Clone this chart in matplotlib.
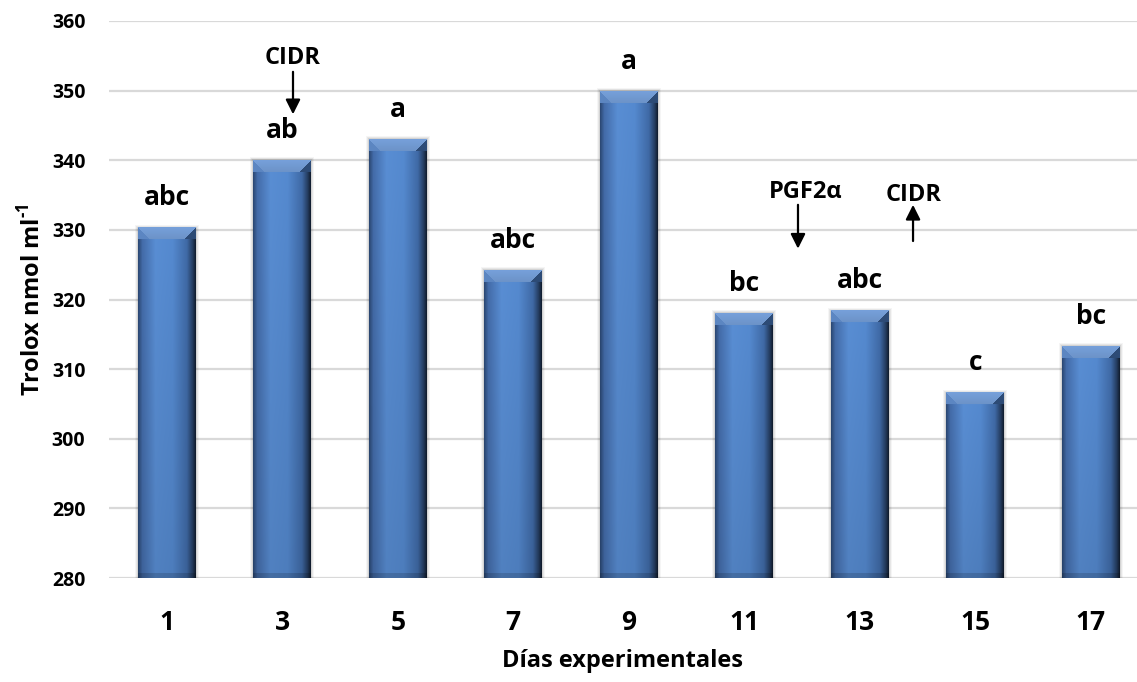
import numpy as np
import matplotlib
matplotlib.use("Agg")
import matplotlib.pyplot as plt
from matplotlib.patches import Rectangle

days = ["1", "3", "5", "7", "9", "11", "13", "15", "17"]
values = [330.3, 340.0, 343.0, 324.2, 349.9, 318.0, 318.4, 306.6, 313.3]
letters = ["abc", "ab", "a", "abc", "a", "bc", "abc", "c", "bc"]
yticks = [280, 290, 300, 310, 320, 330, 340, 350, 360]

plt.rcParams['font.family'] = ['Open Sans', 'DejaVu Sans']
plt.rcParams['mathtext.fontset'] = 'custom'
plt.rcParams['mathtext.bf'] = 'Open Sans:bold'
plt.rcParams['mathtext.rm'] = 'Open Sans:bold'

W, H, DPI = 1137, 682, 100
fig = plt.figure(figsize=(W / DPI, H / DPI), dpi=DPI)
ax = fig.add_axes([109 / W, (H - 578) / H, 1028 / W, 557 / H])
ax.set_xlim(-0.5, 8.4)
ax.set_ylim(280, 360)
for s in ax.spines.values():
    s.set_visible(False)
ax.set_yticks(yticks)
ax.yaxis.grid(True, color='#d9d9d9', linewidth=1.6, zorder=0)
ax.set_axisbelow(True)
ax.tick_params(axis='both', length=0)
ax.tick_params(axis='y', pad=17, labelsize=14)
ax.tick_params(axis='x', pad=22, labelsize=19)
for lab in ax.get_yticklabels():
    lab.set_fontweight('bold')

x = np.arange(len(days))
bw = 0.5
bars = ax.bar(x, [v - 280 for v in values], bottom=280, width=bw,
              color='#4f81bd', zorder=2)
ax.set_xticks(x)
ax.set_xticklabels(days, fontweight='bold', fontsize=19)

fig.canvas.draw()
def to_px(xd, yd):
    return ax.transData.transform((xd, yd))

def lerp_stops(t, stops):
    ts = [s[0] for s in stops]
    out = np.zeros((len(t), 3))
    for c in range(3):
        out[:, c] = np.interp(t, ts, [s[1][c] for s in stops])
    return out / 255.0

hstops = [(0.0, (42, 70, 112)), (0.07, (64, 102, 160)), (0.3, (84, 134, 200)),
          (0.6, (80, 130, 196)), (0.85, (60, 100, 157)), (0.95, (35, 58, 92)),
          (1.0, (18, 30, 48))]

for rect, v in zip(bars, values):
    x0 = rect.get_x(); x1 = x0 + rect.get_width()
    p0 = to_px(x0, 280); p1 = to_px(x1, v)
    wpx = int(round(p1[0] - p0[0])); hpx = int(round(p1[1] - p0[1]))
    t = np.linspace(0, 1, wpx)
    row = lerp_stops(t, hstops)
    img = np.tile(row[None, :, :], (hpx, 1, 1))
    vf = np.linspace(1.06, 0.96, hpx)[:, None, None]
    img = np.clip(img * vf, 0, 1)
    b = 12; s = 11; bb = 5
    ii, jj = np.mgrid[0:hpx, 0:wpx]
    top = (ii < b)
    left_tri = top & (jj < ii * s / b)
    right_tri = top & ((wpx - 1 - jj) < ii * s / b)
    face = top & ~left_tri & ~right_tri
    fv = np.linspace(1.0, 0.92, b)
    base_face = np.array([118, 160, 218]) / 255.0
    for r in range(b):
        m = face & (ii == r)
        img[m] = base_face * fv[r]
    img[left_tri] = np.array([92, 134, 194]) / 255.0
    img[right_tri] = np.array([45, 75, 118]) / 255.0
    bot = ii >= hpx - bb
    img[bot] = img[bot] * 0.85
    for k, a in [(3, 0.04), (2, 0.06), (1, 0.08)]:
        dx = k / 115.5; dy = k / 6.9625
        ax.add_patch(Rectangle((x0 - dx, 280), (x1 - x0) + 2 * dx, v - 280 + dy,
                               facecolor='black', alpha=a, edgecolor='none', zorder=1.5))
    ax.imshow(img, extent=[x0, x1, 280, v], aspect='auto', zorder=3,
              interpolation='bilinear')
    rect.set_visible(False)

ax.set_xlim(-0.5, 8.4)
ax.set_ylim(280, 360)

for xi, v, l in zip(x, values, letters):
    ax.text(xi, v + 4.3, l, ha='center', va='center', fontsize=19,
            fontweight='bold', zorder=5)

ap = dict(arrowstyle='-|>', color='black', lw=1.6, mutation_scale=22,
          shrinkA=0, shrinkB=0)
ax.text(1.09, 354.7, 'CIDR', ha='center', va='center', fontsize=17, fontweight='bold')
ax.annotate('', xy=(1.093, 346.6), xytext=(1.093, 352.7), arrowprops=ap)
ax.text(5.53, 335.4, 'PGF2α', ha='center', va='center', fontsize=17, fontweight='bold')
ax.annotate('', xy=(5.465, 327.3), xytext=(5.465, 333.6), arrowprops=ap)
ax.text(6.47, 335.0, 'CIDR', ha='center', va='center', fontsize=17, fontweight='bold')
ax.annotate('', xy=(6.461, 333.6), xytext=(6.461, 328.4), arrowprops=ap)

ax.set_ylabel(r'Trolox nmol ml$^{\mathbf{\text{-}1}}$', fontsize=17, fontweight='bold', labelpad=4)
ax.set_xlabel('Días experimentales', fontsize=17, fontweight='bold', labelpad=10)

fig.savefig('out.png', dpi=DPI)
